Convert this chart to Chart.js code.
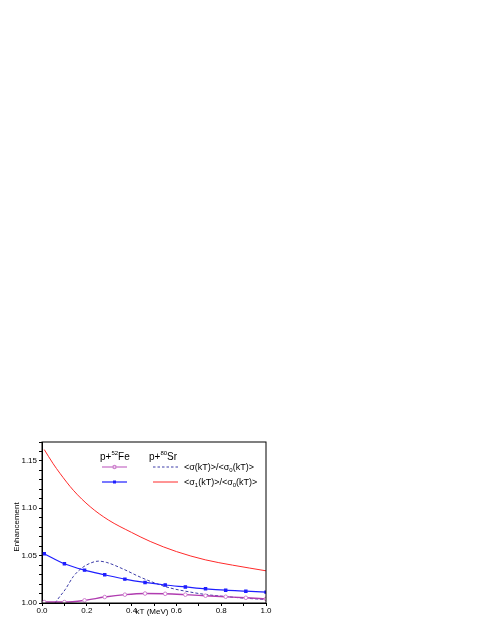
<!DOCTYPE html>
<html>
<head>
<meta charset="utf-8">
<script src="https://cdn.jsdelivr.net/npm/chart.js@4"></script>
<style>
  html, body { margin: 0; padding: 0; background: #fff; }
  canvas { display: block; }
</style>
</head>
<body>
<canvas id="chart" width="491" height="635"></canvas>
<script>
// kT points with markers (p+52Fe)
const feX = [0.01, 0.10, 0.19, 0.28, 0.37, 0.46, 0.55, 0.64, 0.73, 0.82, 0.91, 1.00];
const feSigma = [1.001, 1.001, 1.0028, 1.0063, 1.0088, 1.0100, 1.0097, 1.0088, 1.0077, 1.0066, 1.0055, 1.0043];
const feSigma1 = [1.052, 1.0414, 1.0347, 1.0298, 1.0252, 1.0217, 1.019, 1.017, 1.015, 1.0135, 1.0125, 1.0115];

// p+80Sr curves
const srX1 = [0.01, 0.05, 0.08, 0.14, 0.215, 0.296, 0.40, 0.483, 0.60, 0.729, 0.85, 1.00];
const srSigma1 = [1.162, 1.147, 1.137, 1.119, 1.1017, 1.0877, 1.0745, 1.065, 1.0543, 1.0456, 1.0400, 1.034];
const srX = [0.058, 0.08, 0.103, 0.14, 0.177, 0.215, 0.252, 0.289, 0.363, 0.438, 0.505, 0.57, 0.64, 0.73, 0.82, 0.91, 1.00];
const srSigma = [1.000, 1.007, 1.014, 1.028, 1.0368, 1.042, 1.0442, 1.0428, 1.0358, 1.0274, 1.021, 1.016, 1.0125, 1.009, 1.0068, 1.005, 1.0038];

const pts = (xs, ys) => xs.map((x, i) => ({ x: x, y: ys[i] }));
const FONT = 'Liberation Sans, Arial, sans-serif';

const purple = '#b03cb0', blue = '#1f1fff', red = '#ff2a2a', navy = '#3c3ca8';

// frame, axis titles and the in-plot legend
const extras = {
    id: 'extras',
    afterDraw(chart) {
        const c = chart.ctx, a = chart.chartArea;
        c.save();
        c.strokeStyle = '#000';
        c.lineWidth = 1;
        c.strokeRect(a.left, a.top, a.right - a.left, a.bottom - a.top);

        c.fillStyle = '#000';
        c.font = '8px ' + FONT;
        c.textAlign = 'center';
        c.textBaseline = 'middle';
        c.fillText('kT (MeV)', 152, 612);
        c.save();
        c.translate(17, 527);
        c.rotate(-Math.PI / 2);
        c.fillText('Enhancement', 0, 0);
        c.restore();

        // legend headers
        c.textAlign = 'left';
        c.textBaseline = 'alphabetic';
        const sup = (txt, x, y, base, s) => {
            c.font = '10px ' + FONT;
            c.fillText(txt, x, y);
            let w = c.measureText(txt).width;
            c.font = '6px ' + FONT;
            c.fillText(base, x + w, y - 5);
            w += c.measureText(base).width;
            c.font = '10px ' + FONT;
            c.fillText(s, x + w, y);
        };
        sup('p+', 100, 460, '52', 'Fe');
        sup('p+', 149, 460, '80', 'Sr');

        // legend samples
        c.lineWidth = 1.5;
        c.strokeStyle = '#d088d0';
        c.beginPath(); c.moveTo(102, 467); c.lineTo(127, 467); c.stroke();
        c.fillStyle = '#fff';
        c.beginPath(); c.arc(114.5, 467, 1.5, 0, Math.PI * 2); c.fill(); c.stroke();
        c.lineWidth = 1.2;
        c.strokeStyle = blue;
        c.beginPath(); c.moveTo(102, 482); c.lineTo(127, 482); c.stroke();
        c.fillStyle = blue;
        c.fillRect(113, 480.5, 3, 3);
        c.lineWidth = 1;
        c.strokeStyle = navy;
        c.setLineDash([2.5, 2]);
        c.beginPath(); c.moveTo(153, 467); c.lineTo(178, 467); c.stroke();
        c.setLineDash([]);
        c.strokeStyle = red;
        c.beginPath(); c.moveTo(153, 482); c.lineTo(178, 482); c.stroke();

        // legend labels with subscripts
        c.fillStyle = '#000';
        const sub = (parts, x, y) => {
            parts.forEach(p => {
                c.font = (p[1] ? '6px ' : '9px ') + FONT;
                c.fillText(p[0], x, y + (p[1] ? 2 : 0));
                x += c.measureText(p[0]).width;
            });
        };
        sub([['<\u03c3(kT)>/<\u03c3', 0], ['0', 1], ['(kT)>', 0]], 184, 470);
        sub([['<\u03c3', 0], ['1', 1], ['(kT)>/<\u03c3', 0], ['0', 1], ['(kT)>', 0]], 184, 485);
        c.restore();
    }
};

new Chart(document.getElementById('chart'), {
    type: 'line',
    data: {
        datasets: [
            {
                label: 'p+52Fe <σ>/<σ0>',
                data: pts(feX, feSigma),
                borderColor: purple,
                borderWidth: 1.4,
                pointStyle: 'circle',
                pointRadius: 1.8,
                pointBorderColor: '#d080d0',
                pointBackgroundColor: '#fff',
                pointBorderWidth: 1,
                cubicInterpolationMode: 'monotone'
            },
            {
                label: 'p+52Fe <σ1>/<σ0>',
                data: pts(feX, feSigma1),
                borderColor: blue,
                borderWidth: 1.2,
                pointStyle: 'rect',
                pointRadius: 1.6,
                pointBorderColor: blue,
                pointBackgroundColor: blue,
                cubicInterpolationMode: 'monotone'
            },
            {
                label: 'p+80Sr <σ>/<σ0>',
                data: pts(srX, srSigma),
                borderColor: navy,
                borderWidth: 1,
                borderDash: [3, 2],
                pointRadius: 0,
                cubicInterpolationMode: 'monotone'
            },
            {
                label: 'p+80Sr <σ1>/<σ0>',
                data: pts(srX1, srSigma1),
                borderColor: red,
                borderWidth: 1,
                pointRadius: 0,
                cubicInterpolationMode: 'monotone'
            }
        ]
    },
    options: {
        responsive: false,
        animation: false,
        layout: { padding: { left: 0, right: 225, top: 442, bottom: 0 } },
        plugins: { legend: { display: false }, tooltip: { enabled: false } },
        scales: {
            x: {
                type: 'linear',
                min: 0, max: 1,
                afterFit: s => { s.height = 32; },
                grid: { drawOnChartArea: false, tickLength: 3, color: '#000', tickColor: '#000' },
                border: { color: '#000' },
                ticks: {
                    stepSize: 0.1, autoSkip: false, maxRotation: 0, padding: 0,
                    color: '#000', font: { size: 8, family: FONT },
                    callback: v => Math.round(v * 10) % 2 === 0 ? v.toFixed(1) : ''
                }
            },
            y: {
                min: 1.0, max: 1.17,
                afterFit: s => { s.width = 42; },
                grid: { drawOnChartArea: false, tickLength: 3, color: '#000', tickColor: '#000' },
                border: { color: '#000' },
                ticks: {
                    stepSize: 0.01, autoSkip: false, padding: 2,
                    color: '#000', font: { size: 8, family: FONT },
                    callback: v => Math.round(v * 100) % 5 === 0 ? v.toFixed(2) : ''
                }
            }
        }
    },
    plugins: [extras]
});
</script>
</body>
</html>
